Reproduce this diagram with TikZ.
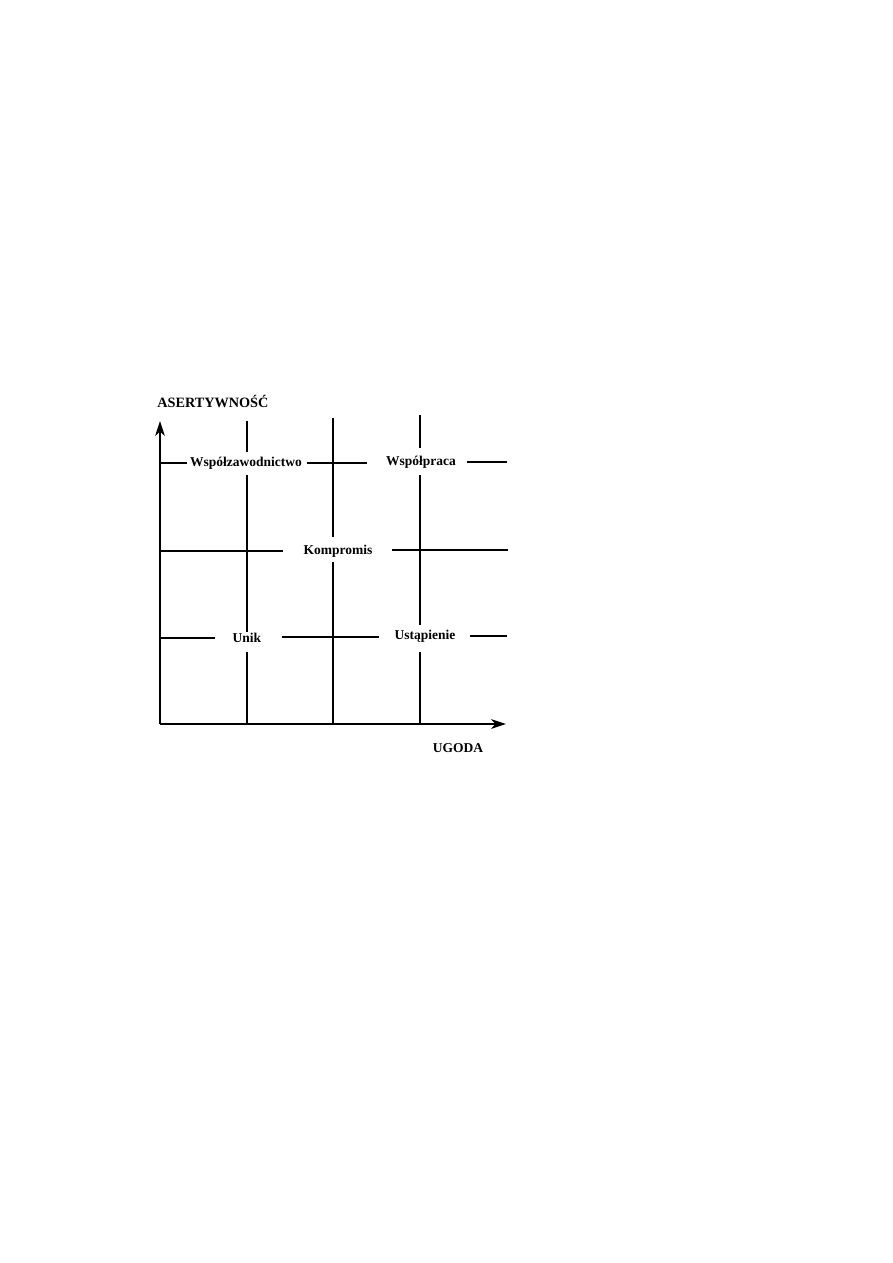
\documentclass[tikz,border=0pt]{standalone}
\usepackage{fontspec}
\setmainfont{Liberation Serif}
\usetikzlibrary{arrows.meta}
\begin{document}
\begin{tikzpicture}[x=0.6667pt,y=-0.6667pt,
  ln/.style={line width=0.7pt},
  ax/.style={line width=0.8pt,-{Stealth[length=10pt,width=6.5pt,inset=3pt]}},
  lbl/.style={font=\fontsize{9}{11}\selectfont\bfseries,inner sep=0pt}]
\useasboundingbox (0,0) rectangle (893,1263);
% axes
\coordinate (O) at (160,724);
\coordinate (Ytop) at (160,421);
\coordinate (Xend) at (506,724);
\draw[ax] (O) -- (Ytop);
\draw[ax] (O) -- (Xend);
% vertical lines
\draw[ln] (247,421) -- (247,452) (247,475) -- (247,632) (247,652) -- (247,724);
\draw[ln] (333,418) -- (333,537) (333,562) -- (333,724);
\draw[ln] (420,415) -- (420,448) (420,475) -- (420,625) (420,652) -- (420,724);
% horizontal lines
\draw[ln] (160,463) -- (187,463) (307,463) -- (367,463) (467,462) -- (507,462);
\draw[ln] (160,551) -- (283,551) (392,550) -- (508,550);
\draw[ln] (160,638) -- (215,638) (282,637) -- (379,637) (470,636) -- (507,636);
% labels
\node[lbl,font=\fontsize{9.5}{11}\selectfont\bfseries,anchor=west] (as) at (157,401) {ASERTYWNOŚĆ};
\node[lbl] (ug) at (458,748) {UGODA};
\node[lbl] (wsz) at (246,463) {Współzawodnictwo};
\node[lbl] (wsp) at (421,462) {Współpraca};
\node[lbl] (kom) at (338,551) {Kompromis};
\node[lbl] (un) at (247,638) {Unik};
\node[lbl] (ust) at (425,636) {Ustąpienie};
\end{tikzpicture}
\end{document}
